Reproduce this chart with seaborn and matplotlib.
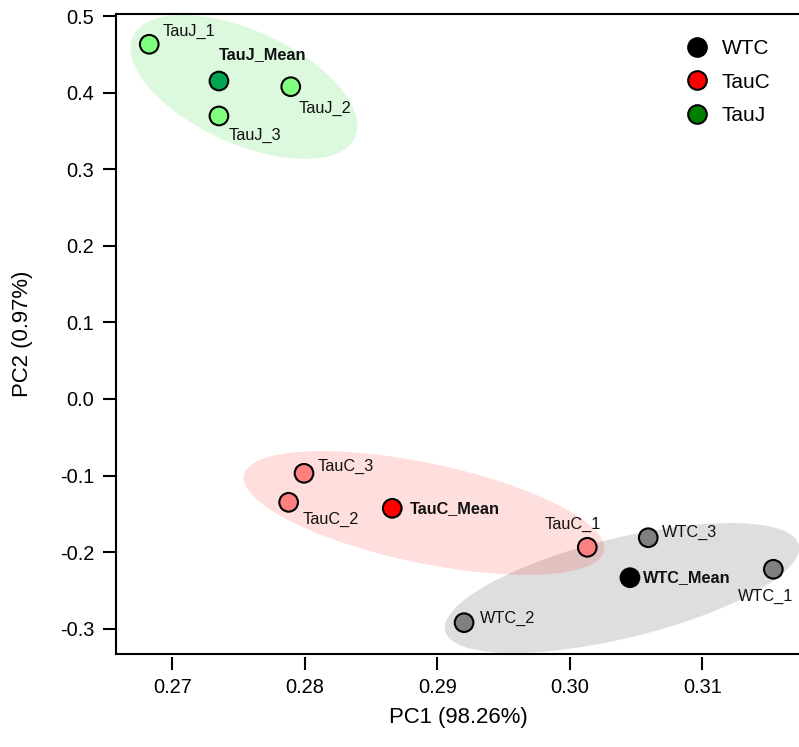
import numpy as np
import pandas as pd
import matplotlib
matplotlib.use("Agg")
import matplotlib.pyplot as plt
import seaborn as sns
from matplotlib.patches import Ellipse
from matplotlib.lines import Line2D
from matplotlib.transforms import ScaledTranslation

# ---------------- data ----------------
labels = ["WTC_1", "WTC_2", "WTC_3", "WTC_Mean",
          "TauC_1", "TauC_2", "TauC_3", "TauC_Mean",
          "TauJ_1", "TauJ_2", "TauJ_3", "TauJ_Mean"]
groups = ["WTC"] * 4 + ["TauC"] * 4 + ["TauJ"] * 4
pc1 = [0.31536, 0.29202, 0.30592, 0.30454,
       0.30132, 0.27878, 0.27994, 0.28660,
       0.26826, 0.27894, 0.27352, 0.27352]
pc2 = [-0.2223, -0.2920, -0.1811, -0.2333,
       -0.1936, -0.1349, -0.0970, -0.1427,
       0.4631, 0.4077, 0.3695, 0.4151]

x_ticks = [0.27, 0.28, 0.29, 0.30, 0.31]
x_tick_labels = ["0.27", "0.28", "0.29", "0.30", "0.31"]
y_ticks = [-0.3, -0.2, -0.1, 0.0, 0.1, 0.2, 0.3, 0.4, 0.5]
y_tick_labels = ["-0.3", "-0.2", "-0.1", "0.0", "0.1", "0.2", "0.3", "0.4", "0.5"]

legend_groups = ["WTC", "TauC", "TauJ"]
legend_colors = ["#000000", "#FF0000", "#008000"]

# ellipse centres (data) and shapes
ell_groups = ["WTC", "TauC", "TauJ"]
ell_cx = [0.30394, 0.28900, 0.27541]
ell_cy = [-0.2467, -0.1488, 0.4073]

# ---------------- styling ----------------
point_colors = {
    "WTC_1": "#808080", "WTC_2": "#808080", "WTC_3": "#808080", "WTC_Mean": "#000000",
    "TauC_1": "#FF8080", "TauC_2": "#FF8080", "TauC_3": "#FF8080", "TauC_Mean": "#FF0000",
    "TauJ_1": "#80FF80", "TauJ_2": "#80FF80", "TauJ_3": "#80FF80", "TauJ_Mean": "#00A651",
}
# label offsets in pixels (dx right, dy down) and horizontal alignment
label_off = {
    "WTC_1": (-7.8, 27.4, "center"), "WTC_2": (16, -4.7, "left"),
    "WTC_3": (13.7, -5.7, "left"), "WTC_Mean": (12.7, 0, "left"),
    "TauC_1": (-14.8, -23.3, "center"), "TauC_2": (14, 16.7, "left"),
    "TauC_3": (14, -7.3, "left"), "TauC_Mean": (17.7, 0, "left"),
    "TauJ_1": (13, -12.6, "left"), "TauJ_2": (8.3, 21.6, "left"),
    "TauJ_3": (9.3, 19, "left"), "TauJ_Mean": (0, -26, "left"),
}
# ellipse semi-axes (px) and angle (deg, display coords)
ell_a = [182, 184, 122]
ell_b = [50, 50, 56.5]
ell_ang = [13.7, -11.9, -24.4]
ell_fill = [(0.5, 0.5, 0.5, 0.26), (1.0, 0.0, 0.0, 0.13), (0.565, 0.933, 0.565, 0.30)]

sns.set_style("white")
plt.rcParams["font.family"] = ["Liberation Sans", "DejaVu Sans"]
plt.rcParams["axes.unicode_minus"] = False
plt.rcParams["text.color"] = "black"
plt.rcParams["axes.labelcolor"] = "black"

W, H = 799, 747
fig = plt.figure(figsize=(W / 100, H / 100), dpi=100)
left_px, right_px, top_px, bottom_px = 116, 801, 14, 653.5
ax = fig.add_axes([left_px / W, 1 - bottom_px / H,
                   (right_px - left_px) / W, (bottom_px - top_px) / H])

df = pd.DataFrame({"label": labels, "group": groups, "PC1": pc1, "PC2": pc2})

# ellipses
for cx, cy, a, b, ang, fc in zip(ell_cx, ell_cy, ell_a, ell_b, ell_ang, ell_fill):
    trans = fig.dpi_scale_trans + ScaledTranslation(cx, cy, ax.transData)
    e = Ellipse((0, 0), width=2 * a / 100, height=2 * b / 100, angle=ang,
                transform=trans, facecolor=fc, edgecolor="none", zorder=1)
    ax.add_patch(e)

sns.scatterplot(data=df, x="PC1", y="PC2", hue="label", palette=point_colors,
                s=180, edgecolor="black", linewidth=1.5, legend=False, ax=ax, zorder=3)

px2pt = 0.72
for lab, x, y in zip(labels, pc1, pc2):
    dx, dy, ha = label_off[lab]
    bold = lab.endswith("Mean")
    ax.annotate(lab, xy=(x, y), xytext=(dx * px2pt, -dy * px2pt),
                textcoords="offset points", ha=ha, va="center",
                fontsize=11.7, fontweight="bold" if bold else "normal",
                color="#111111", zorder=4)

# axes limits mapped to pixels: 0.27 -> 172.3px, 132.5 px per 0.01; 0.0 -> 399px, 766 px per 1
ax.set_xlim(0.27 - (172.3 - left_px) / 13250, 0.27 + (right_px - 172.3) / 13250)
ax.set_ylim(-(bottom_px - 399) / 766, (399 - top_px) / 766)

ax.set_xticks(x_ticks)
ax.set_xticklabels(x_tick_labels)
ax.set_yticks(y_ticks)
ax.set_yticklabels(y_tick_labels)

for s in ["left", "top", "bottom"]:
    ax.spines[s].set_linewidth(1.5)
    ax.spines[s].set_color("black")
ax.spines["right"].set_visible(False)
# x ticks detached from the box line
ax.spines["bottom"].set_position(("outward", 2.5))
ax.spines["bottom"].set_visible(False)
ax.plot([0, 1], [0, 0], transform=ax.transAxes, color="black", lw=1.5,
        clip_on=False, solid_capstyle="projecting", zorder=5)

ax.tick_params(axis="x", direction="out", length=9.6, width=1.5, pad=5.5,
               labelsize=14.4, colors="black", bottom=True)
ax.tick_params(axis="y", direction="out", length=9.1, width=1.5, pad=6.5,
               labelsize=14.4, colors="black", left=True)

ax.set_xlabel("PC1 (98.26%)", fontsize=15.9, color="black")
ax.set_ylabel("PC2 (0.97%)", fontsize=15.9, color="black")
ax.xaxis.set_label_coords((458 - left_px) / (right_px - left_px), -(718 - bottom_px) / (bottom_px - top_px))
ax.xaxis.label.set_va("center")
ax.yaxis.set_label_coords((23 - left_px) / (right_px - left_px), (bottom_px - 334) / (bottom_px - top_px))
ax.yaxis.label.set_va("center")
ax.grid(False)

handles = [Line2D([0], [0], marker="o", linestyle="none", markersize=13.4,
                  markerfacecolor=c, markeredgecolor="black", markeredgewidth=1.5)
           for c in legend_colors]
leg = fig.legend(handles, legend_groups, loc="upper left",
                 bbox_to_anchor=(686.3 / W, 1 - 39.5 / H), frameon=False,
                 fontsize=15, handlelength=1.0, handletextpad=0.7,
                 labelspacing=0.68, borderpad=0, borderaxespad=0)
for t in leg.get_texts():
    t.set_color("black")

fig.savefig("out.png", dpi=100)
